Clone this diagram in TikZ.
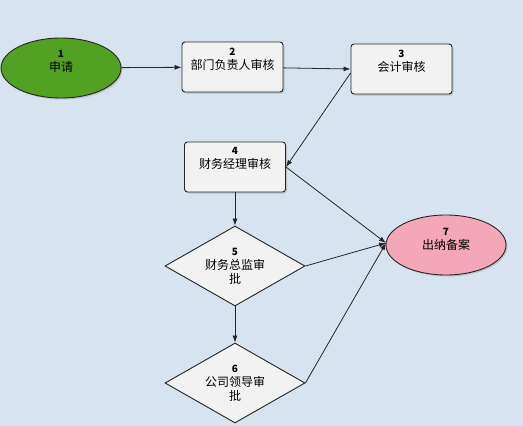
\documentclass[tikz,border=0pt]{standalone}
\usepackage{fontspec}
\setmainfont{Liberation Sans}
\newfontfamily\cjk{Noto Sans CJK SC}
\usetikzlibrary{shapes.geometric,arrows.meta,shadows}
\definecolor{bgc}{HTML}{D7E4EF}
\definecolor{boxc}{HTML}{F2F2F2}
\definecolor{greenc}{HTML}{52A122}
\definecolor{pinkc}{HTML}{F4A7B9}
\tikzset{
  base/.style={draw=black!85, line width=0.9pt, inner sep=0pt},
  shade1/.style={drop shadow={shadow xshift=1.5pt, shadow yshift=-1.5pt, opacity=0.35}},
  stepbox/.style={base, rectangle, rounded corners=3pt, fill=boxc, minimum width=101pt, minimum height=50pt, shade1},
  oval/.style={base, ellipse, minimum width=120pt, minimum height=60pt, shade1},
  decide/.style={base, diamond, fill=boxc, minimum width=140pt, minimum height=80pt, aspect=1.75},
  txt/.style={align=center, inner sep=0pt, font=\cjk\fontsize{12}{14}\selectfont},
  conn/.style={draw=black!85, line width=0.8pt, -{Latex[length=7pt,width=5pt]}}
}
\newcommand{\nl}[2]{{\bfseries\fontsize{10}{14}\selectfont #1}\\#2}
\begin{document}
\begin{tikzpicture}[x=1pt,y=-1pt]
\fill[bgc] (0,0) rectangle (523,426);
\useasboundingbox (0,0) rectangle (523,426);
\node[oval, fill=greenc] (n1) at (61,68) {};
\node[stepbox] (n2) at (232.5,67) {};
\node[stepbox] (n3) at (401.5,69) {};
\node[stepbox] (n4) at (235,167) {};
\node[decide] (n5) at (235,266) {};
\node[decide] (n6) at (235,383) {};
\node[oval, fill=pinkc] (n7) at (446,245) {};
\node[txt] (t1) at (61,61.5) {\nl{1}{申请}};
\node[txt] (t2) at (232.5,59.5) {\nl{2}{部门负责人审核}};
\node[txt] (t3) at (401.5,61) {\nl{3}{会计审核}};
\node[txt] (t4) at (235,158.5) {\nl{4}{财务经理审核}};
\node[txt] (t5) at (235,266) {\nl{5}{财务总监审\\批}};
\node[txt] (t6) at (235,383) {\nl{6}{公司领导审\\批}};
\node[txt] (t7) at (446,239) {\nl{7}{出纳备案}};
\coordinate (e7) at (386,243);
\draw[conn] (n1) -- (n2);
\draw[conn] (n2) -- (n3.west);
\draw[conn] ([yshift=-4pt]n3.west) -- (n4.east);
\draw[conn] (n4.east) -- (e7);
\draw[conn] (n5.east) -- (e7);
\draw[conn] (n6.east) -- (e7);
\draw[conn] (n4) -- (n5);
\draw[conn] (n5) -- (n6);
\end{tikzpicture}
\end{document}
